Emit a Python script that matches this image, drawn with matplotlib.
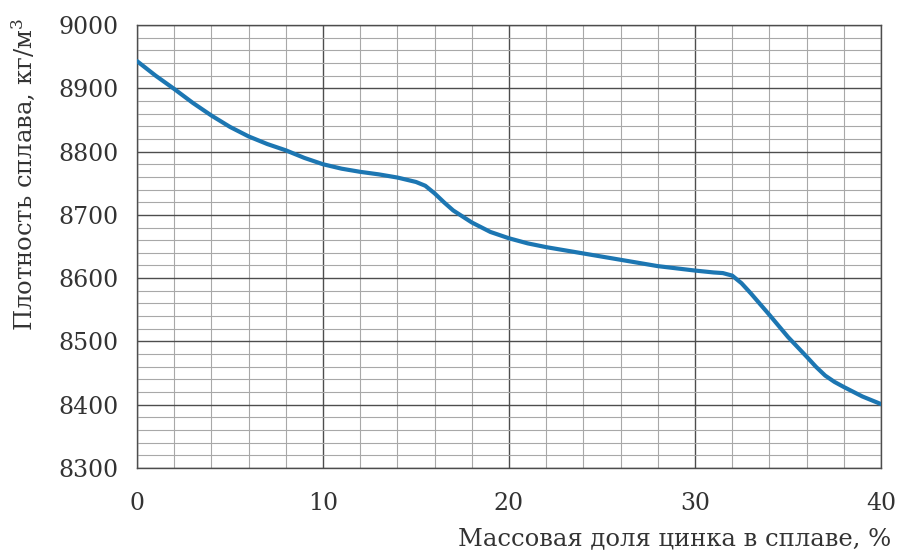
import matplotlib
matplotlib.use("Agg")
import matplotlib.pyplot as plt
from matplotlib.ticker import MultipleLocator

# Zinc mass fraction in alloy, %
zinc_pct = [0, 1, 2, 3, 4, 5, 6, 7, 8, 9, 10, 11, 12, 13, 14, 15, 15.5, 16,
            16.5, 17, 18, 19, 20, 21, 22, 24, 26, 28, 30, 31, 31.5, 32, 32.5,
            33, 34, 35, 36, 36.5, 37, 37.5, 38, 39, 40]
# Alloy density, kg/m^3
density = [8943, 8920, 8899, 8877, 8857, 8839, 8824, 8812, 8802, 8790, 8780,
           8773, 8768, 8764, 8759, 8752, 8746, 8734, 8720, 8707, 8688, 8673,
           8663, 8655, 8649, 8639, 8629, 8619, 8612, 8609, 8608, 8604, 8592,
           8576, 8542, 8507, 8476, 8460, 8446, 8436, 8428, 8413, 8401]

x_ticks = [0, 10, 20, 30, 40]
y_ticks = [8300, 8400, 8500, 8600, 8700, 8800, 8900, 9000]

plt.rcParams["font.family"] = ["DejaVu Serif"]
plt.rcParams["mathtext.fontset"] = "dejavuserif"

fig = plt.figure(figsize=(9, 5.5), dpi=100, facecolor="white")
ax = fig.add_axes([0.1522, 0.1491, 0.8267, 0.8054])

ax.plot(zinc_pct, density, color="#1c76b2", linewidth=3.0,
        solid_capstyle="round", solid_joinstyle="round", zorder=3)

ax.set_xlim(0, 40)
ax.set_ylim(8300, 9000)
ax.set_xticks(x_ticks)
ax.set_yticks(y_ticks)
ax.xaxis.set_minor_locator(MultipleLocator(2))
ax.yaxis.set_minor_locator(MultipleLocator(20))
ax.grid(which="major", color="#4d4d4d", linewidth=1.0)
ax.grid(which="minor", color="#a8a8a8", linewidth=0.8)
ax.tick_params(which="both", length=0)
ax.tick_params(axis="x", pad=17, labelsize=17, colors="#333333")
ax.tick_params(axis="y", pad=13, labelsize=17, colors="#333333")
for s in ax.spines.values():
    s.set_color("#4d4d4d")
    s.set_linewidth(1.0)

fig.text(0.026, 0.682, "Плотность сплава, кг/м$^3$", rotation=90,
         ha="center", va="center", fontsize=17.5, color="#333333")
fig.text(0.99, 0.0, "Массовая доля цинка в сплаве, %", ha="right",
         va="bottom", fontsize=17.5, color="#333333")

fig.savefig("out.png", dpi=100, facecolor="white")
